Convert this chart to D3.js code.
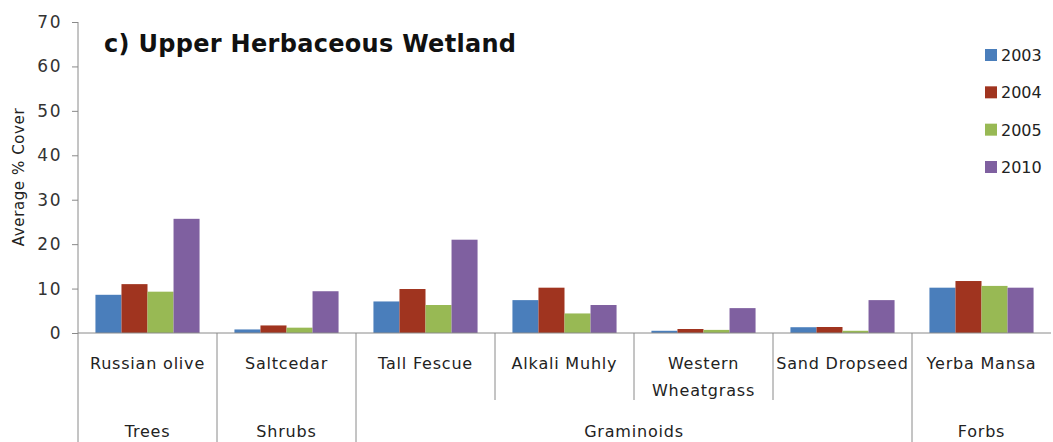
<!DOCTYPE html>
<html>
<head>
<meta charset="utf-8">
<script src="https://cdn.jsdelivr.net/npm/d3@7/dist/d3.min.js"></script>
<style>
  html, body { margin: 0; padding: 0; background: #fff; }
  svg { display: block; font-family: "DejaVu Sans", sans-serif; }
</style>
</head>
<body>
<svg id="chart" width="1053" height="442"></svg>
<script>
// Species (lower axis level) and the plant group each belongs to
const species = ["Russian olive", "Saltcedar", "Tall Fescue", "Alkali Muhly",
                 "Western Wheatgrass", "Sand Dropseed", "Yerba Mansa"];
const speciesLines = [["Russian olive"], ["Saltcedar"], ["Tall Fescue"], ["Alkali Muhly"],
                      ["Western", "Wheatgrass"], ["Sand Dropseed"], ["Yerba Mansa"]];
const groups = ["Trees", "Shrubs", "Graminoids", "Forbs"];
const groupSizes = [1, 1, 4, 1];
const years = ["2003", "2004", "2005", "2010"];

// Average % cover per species, one array per survey year
const cover2003 = [8.6, 0.8, 7.1, 7.4, 0.5, 1.3, 10.2];
const cover2004 = [11.0, 1.7, 9.9, 10.2, 0.9, 1.35, 11.7];
const cover2005 = [9.3, 1.2, 6.3, 4.4, 0.7, 0.5, 10.6];
const cover2010 = [25.7, 9.4, 21.0, 6.3, 5.6, 7.4, 10.2];
const yTicks = [0, 10, 20, 30, 40, 50, 60, 70];

const seriesValues = [cover2003, cover2004, cover2005, cover2010];
const colors = ["#4A7EBB", "#A0341F", "#98B954", "#7F60A0"];

const svg = d3.select("#chart");
const plotLeft = 78, plotRight = 1051, plotTop = 22, plotBase = 333;

const x0 = d3.scaleBand().domain(species).range([plotLeft, plotRight]).paddingInner(0).paddingOuter(0);
const x1 = d3.scaleBand().domain(years).range([0, x0.bandwidth()]).paddingInner(0).paddingOuter(0.67);
const y = d3.scaleLinear().domain([0, 70]).range([plotBase, plotTop]);

// Y axis
const yAxis = d3.axisLeft(y).tickValues(yTicks).tickSize(6).tickPadding(10);
const gy = svg.append("g").attr("transform", `translate(${plotLeft},0)`).call(yAxis);
gy.select(".domain").remove();
gy.selectAll(".tick line").attr("stroke", "#8a8a8a");
gy.selectAll(".tick text")
  .attr("fill", "#333").style("font-size", "17px").style("letter-spacing", "1.5px")
  .style("font-family", "'DejaVu Sans', sans-serif");
svg.append("line").attr("x1", plotLeft).attr("x2", plotLeft).attr("y1", plotTop).attr("y2", 442)
  .attr("stroke", "#8a8a8a");

svg.append("text")
  .attr("transform", `translate(24,177) rotate(-90)`)
  .attr("text-anchor", "middle").attr("fill", "#222")
  .style("font-size", "15px").style("letter-spacing", "0.6px")
  .text("Average % Cover");

// Bars
const bars = svg.append("g");
species.forEach((sp, i) => {
  years.forEach((yr, j) => {
    const v = seriesValues[j][i];
    bars.append("rect")
      .attr("x", x0(sp) + x1(yr))
      .attr("y", y(v))
      .attr("width", x1.bandwidth())
      .attr("height", y(0) - y(v))
      .attr("fill", colors[j]);
  });
});

// X axis baseline
svg.append("line").attr("x1", plotLeft).attr("x2", plotRight).attr("y1", plotBase).attr("y2", plotBase)
  .attr("stroke", "#8a8a8a");

// Dividers between species; group boundaries run to the bottom edge
const boundaries = [];
let acc = 0;
groupSizes.forEach(n => { acc += n; boundaries.push(acc); });
for (let i = 1; i < species.length; i++) {
  const xb = x0(species[i]);
  const isGroupEdge = boundaries.includes(i);
  svg.append("line").attr("x1", xb).attr("x2", xb)
    .attr("y1", plotBase).attr("y2", isGroupEdge ? 442 : 400)
    .attr("stroke", "#8a8a8a");
}

// Species labels
species.forEach((sp, i) => {
  const t = svg.append("text")
    .attr("x", x0(sp) + x0.bandwidth() / 2)
    .attr("y", 369)
    .attr("text-anchor", "middle").attr("fill", "#222")
    .style("font-size", "16px").style("letter-spacing", "0.8px");
  speciesLines[i].forEach((ln, k) => {
    t.append("tspan").attr("x", x0(sp) + x0.bandwidth() / 2).attr("dy", k === 0 ? 0 : 27).text(ln);
  });
});

// Group labels
let start = 0;
groups.forEach((g, gi) => {
  const first = species[start];
  const last = species[start + groupSizes[gi] - 1];
  const cx = (x0(first) + x0(last) + x0.bandwidth()) / 2;
  svg.append("text").attr("x", cx).attr("y", 437)
    .attr("text-anchor", "middle").attr("fill", "#222")
    .style("font-size", "16px").style("letter-spacing", "0.8px").text(g);
  start += groupSizes[gi];
});

// Title
svg.append("text").attr("x", 104).attr("y", 52)
  .attr("fill", "#111").style("font-size", "24px").style("font-weight", "bold")
  .style("letter-spacing", "0.3px")
  .text("c) Upper Herbaceous Wetland");

// Legend
const legend = svg.append("g");
const legendY = d3.scalePoint().domain(years).range([55, 167]);
years.forEach((yr, j) => {
  legend.append("rect").attr("x", 985).attr("y", legendY(yr) - 6)
    .attr("width", 12).attr("height", 12).attr("fill", colors[j]);
  legend.append("text").attr("x", 1001).attr("y", legendY(yr) + 6)
    .attr("fill", "#222").style("font-size", "16px").text(yr);
});
</script>
</body>
</html>
